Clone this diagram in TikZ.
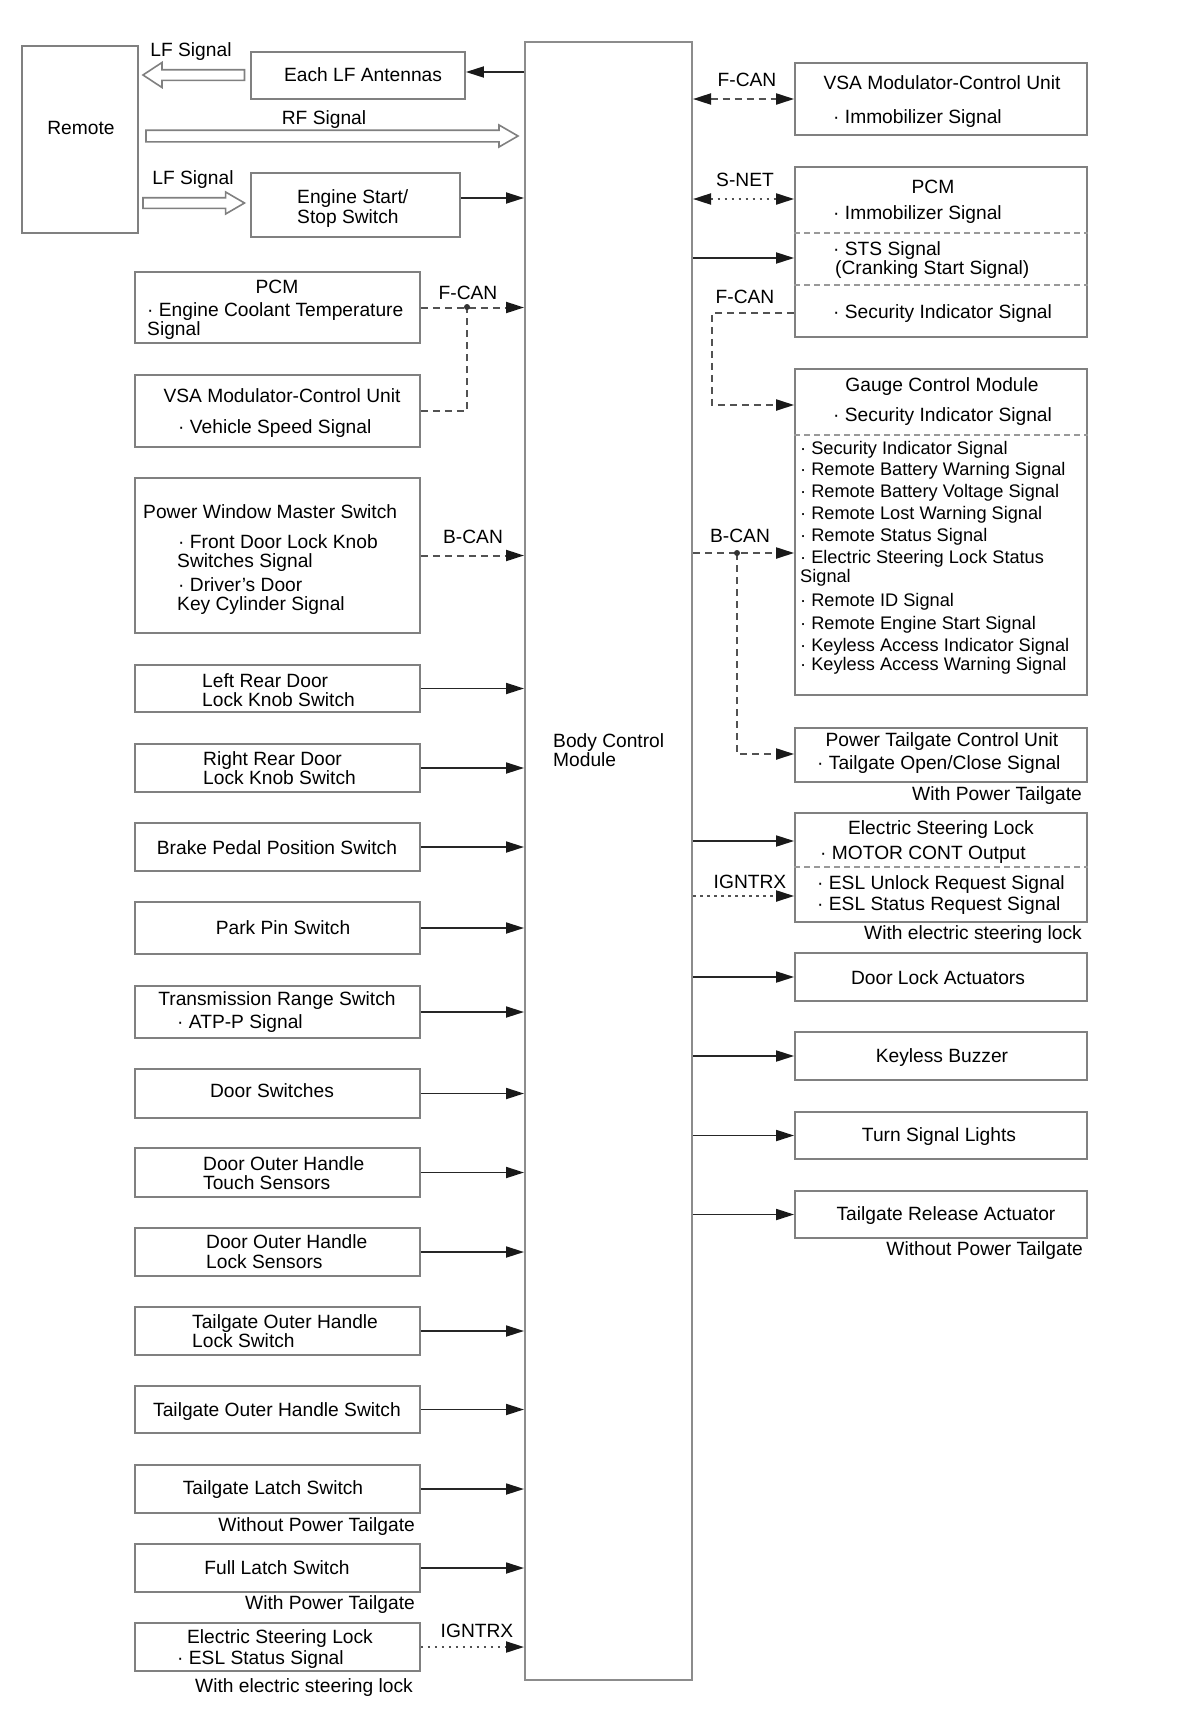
\documentclass[tikz,border=0pt]{standalone}
\usepackage{fontspec}
\setmainfont{Liberation Sans}
\usetikzlibrary{arrows.meta,calc}
\newcount\tc
\newcommand\T[4][west]{\global\advance\tc by 1\relax\node[txt,anchor=#1] (t\the\tc) at (#2,#3) {#4};}
\newcommand\Ts[3]{\global\advance\tc by 1\relax\node[stxt,anchor=west] (t\the\tc) at (#1,#2) {#3};}
\newcommand\B[5]{\node[box,minimum width={(#4-#2)*1pt},minimum height={(#5-#3)*1pt}] (#1) at ({(#2+#4)/2},{(#3+#5)/2}) {};}
\newcommand\HA[6]{\draw[harrow] (#1,#3-#4) -- (#6,#3-#4) -- (#6,#3-#5) -- (#2,#3) -- (#6,#3+#5) -- (#6,#3+#4) -- (#1,#3+#4) -- cycle;}
\tikzset{
  txt/.style={inner sep=0pt,text height=13.8pt,text depth=0pt,font=\fontsize{19.2}{22}\selectfont},
  stxt/.style={inner sep=0pt,text height=13pt,text depth=0pt,font=\fontsize{18.2}{21}\selectfont},
  box/.style={draw=black!50,line width=1.8pt,inner sep=0pt,fill=white},
  harrow/.style={draw=black!50,line width=1.6pt,fill=white},
  tip/.style={-{Triangle[length=18pt,width=11pt,color=black!90]}},
  btip/.style={{Triangle[length=18pt,width=11pt,color=black!90]}-{Triangle[length=18pt,width=11pt,color=black!90]}},
  conn/.style={draw=black!85,line width=1.8pt,tip},
  can/.style={draw=black!68,line width=2pt,dash pattern=on 7pt off 5pt,tip},
  dotc/.style={draw=black!68,line width=2pt,dash pattern=on 2.5pt off 4.5pt,tip},
  sep/.style={draw=black!40,line width=1.4pt,dash pattern=on 6pt off 4pt},
}
\begin{document}
\begin{tikzpicture}[x=1pt,y=-1pt]
\useasboundingbox[fill=white] (0,0) rectangle (1200,1724);
% Body Control Module
\node[draw=black!45,line width=2pt,inner sep=0pt,minimum width=167pt,minimum height=1638pt] (bcm) at (608.5,861) {};
\T{553}{741}{Body Control}
\T{553}{760}{Module}
% Remote area
\B{remote}{22}{46}{138}{233}
\T[center]{81}{128}{Remote}
\B{elf}{251}{52}{465}{99}
\T[center]{363}{75}{Each LF Antennas}
\B{ess}{251}{173}{460}{237}
\T{297}{197}{Engine Start/}
\T{297}{217}{Stop Switch}
\HA{244.5}{143}{75}{5.3}{12.5}{162}
\HA{146}{518}{136}{5.8}{11}{499}
\HA{143}{244.5}{203}{5.3}{11}{225.6}
\T[center]{191}{50}{LF Signal}
\T[center]{324}{118}{RF Signal}
\T[center]{193}{178}{LF Signal}
\draw[conn] (bcm.west |- 0,72) -- (elf.east |- 0,72);
\draw[conn] (ess.east |- 0,198) -- (bcm.west |- 0,198);
% Left boxes
\B{lpcm}{135}{272}{420}{343}
\T[center]{277}{287}{PCM}
\T{147}{310}{· Engine Coolant Temperature}
\T{147}{329}{Signal}
\B{lvsa}{135}{375}{420}{447}
\T[center]{282}{396}{VSA Modulator-Control Unit}
\T{178}{427}{· Vehicle Speed Signal}
\B{pwms}{135}{478}{420}{633}
\T{143}{512}{Power Window Master Switch}
\T{178}{542}{· Front Door Lock Knob}
\T{177}{561}{Switches Signal}
\T{178}{585}{· Driver’s Door}
\T{177}{604}{Key Cylinder Signal}
\B{lrd}{135}{665}{420}{712}
\T{202}{681}{Left Rear Door}
\T{202}{700}{Lock Knob Switch}
\B{rrd}{135}{744}{420}{792}
\T{203}{759}{Right Rear Door}
\T{203}{778}{Lock Knob Switch}
\B{bpps}{135}{823}{420}{871}
\T[center]{277}{848}{Brake Pedal Position Switch}
\B{pps}{135}{902}{420}{954}
\T[center]{283}{928}{Park Pin Switch}
\B{trs}{135}{986}{420}{1038}
\T[center]{277}{999}{Transmission Range Switch}
\T{177}{1022}{· ATP-P Signal}
\B{ds}{135}{1069}{420}{1118}
\T[center]{272}{1091}{Door Switches}
\B{dht}{135}{1148}{420}{1197}
\T{203}{1164}{Door Outer Handle}
\T{203}{1183}{Touch Sensors}
\B{dhl}{135}{1228}{420}{1276}
\T{206}{1242}{Door Outer Handle}
\T{206}{1262}{Lock Sensors}
\B{tohl}{135}{1307}{420}{1355}
\T{192}{1322}{Tailgate Outer Handle}
\T{192}{1341}{Lock Switch}
\B{tohs}{135}{1386}{420}{1433}
\T[center]{277}{1410}{Tailgate Outer Handle Switch}
\B{tls}{135}{1465}{420}{1513}
\T[center]{273}{1488}{Tailgate Latch Switch}
\T[east]{415}{1525}{Without Power Tailgate}
\B{fls}{135}{1544}{420}{1592}
\T[center]{277}{1568}{Full Latch Switch}
\T[east]{415}{1603}{With Power Tailgate}
\B{lesl}{135}{1623}{420}{1671}
\T[center]{280}{1637}{Electric Steering Lock}
\T{177}{1658}{· ESL Status Signal}
\T[east]{413}{1686}{With electric steering lock}
% left connectors
\coordinate (jn1) at (467,307);
\draw[can] (lpcm) -- (lpcm -| bcm.west);
\draw[can,-] (lvsa.east) -| (jn1);
\fill[black!80] (jn1) circle (3pt);
\T[center]{468}{293}{F-CAN}
\draw[can] (pwms) -- (pwms -| bcm.west);
\T[center]{473}{537}{B-CAN}
\foreach \n in {lrd,rrd,bpps,pps,trs,ds,dht,dhl,tohl,tohs,tls,fls}{\draw[conn] (\n) -- (\n -| bcm.west);}
\draw[dotc] (lesl) -- (lesl -| bcm.west);
\T[center]{477}{1631}{IGNTRX}
% Right boxes
\B{rvsa}{795}{63}{1087}{135}
\T[center]{942}{83}{VSA Modulator-Control Unit}
\T{833}{117}{· Immobilizer Signal}
\B{rpcm}{795}{167}{1087}{337}
\draw[sep] (rpcm.west |- 0,233) -- (rpcm.east |- 0,233);
\draw[sep] (rpcm.west |- 0,285) -- (rpcm.east |- 0,285);
\T[center]{933}{187}{PCM}
\T{833}{213}{· Immobilizer Signal}
\T{833}{249}{· STS Signal}
\T{835}{268}{(Cranking Start Signal)}
\T{833}{312}{· Security Indicator Signal}
\B{gcm}{795}{369}{1087}{695}
\draw[sep] (gcm.west |- 0,435) -- (gcm.east |- 0,435);
\T[center]{942}{385}{Gauge Control Module}
\T{833}{415}{· Security Indicator Signal}
\Ts{800}{448}{· Security Indicator Signal}
\Ts{800}{469}{· Remote Battery Warning Signal}
\Ts{800}{491}{· Remote Battery Voltage Signal}
\Ts{800}{513}{· Remote Lost Warning Signal}
\Ts{800}{535}{· Remote Status Signal}
\Ts{800}{557}{· Electric Steering Lock Status}
\Ts{800}{576}{Signal}
\Ts{800}{600}{· Remote ID Signal}
\Ts{800}{623}{· Remote Engine Start Signal}
\Ts{800}{645}{· Keyless Access Indicator Signal}
\Ts{800}{664}{· Keyless Access Warning Signal}
\B{ptu}{795}{728}{1087}{782}
\T[center]{942}{740}{Power Tailgate Control Unit}
\T{817}{763}{· Tailgate Open/Close Signal}
\T[east]{1082}{794}{With Power Tailgate}
\B{resl}{795}{813}{1087}{922}
\draw[sep] (resl.west |- 0,867) -- (resl.east |- 0,867);
\T[center]{941}{828}{Electric Steering Lock}
\T{820}{853}{· MOTOR CONT Output}
\T{817}{883}{· ESL Unlock Request Signal}
\T{817}{904}{· ESL Status Request Signal}
\T[east]{1082}{933}{With electric steering lock}
\B{dla}{795}{953}{1087}{1001}
\T[center]{938}{978}{Door Lock Actuators}
\B{kb}{795}{1032}{1087}{1080}
\T[center]{942}{1056}{Keyless Buzzer}
\B{tsl}{795}{1112}{1087}{1159}
\T[center]{939}{1135}{Turn Signal Lights}
\B{tra}{795}{1191}{1087}{1238}
\T[center]{946}{1214}{Tailgate Release Actuator}
\T[east]{1083}{1249}{Without Power Tailgate}
% right connectors
\draw[can,btip] (bcm.east |- rvsa) -- (rvsa.west);
\T[center]{747}{80}{F-CAN}
\draw[dotc,btip] (bcm.east |- 0,199) -- (rpcm.west |- 0,199);
\T[center]{745}{180}{S-NET}
\draw[conn] (bcm.east |- 0,258) -- (rpcm.west |- 0,258);
\coordinate (fc2a) at (712,313);
\coordinate (fc2b) at (712,405);
\draw[can] (rpcm.west |- fc2a) -- (fc2a) -- (fc2b) -- (gcm.west |- fc2b);
\T[center]{745}{297}{F-CAN}
\coordinate (jn2) at (737,553);
\coordinate (jn2b) at (737,754);
\draw[can] (bcm.east |- jn2) -- (gcm.west |- jn2);
\draw[can] (jn2) -- (jn2b) -- (ptu.west |- jn2b);
\fill[black!80] (jn2) circle (3pt);
\T[center]{740}{536}{B-CAN}
\draw[conn] (bcm.east |- 0,841) -- (resl.west |- 0,841);
\draw[dotc] (bcm.east |- 0,896) -- (resl.west |- 0,896);
\T[center]{750}{882}{IGNTRX}
\foreach \n in {dla,kb,tsl,tra}{\draw[conn] (\n -| bcm.east) -- (\n.west);}
\end{tikzpicture}
\end{document}
